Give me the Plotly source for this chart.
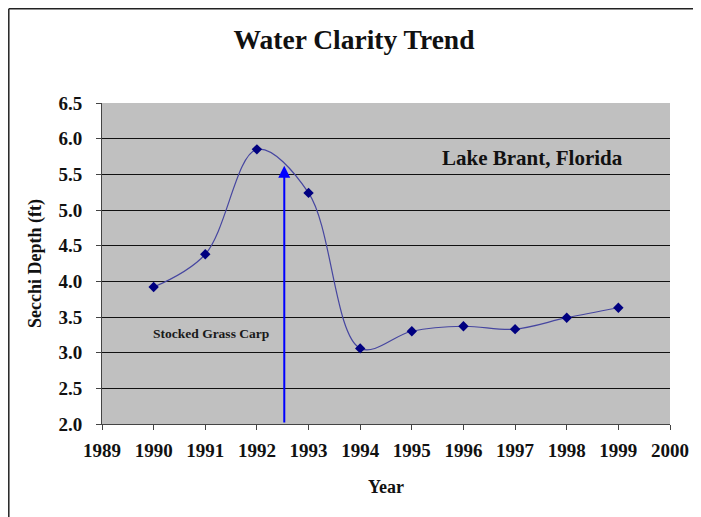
import plotly.graph_objects as go

years = [1990, 1991, 1992, 1993, 1994, 1995, 1996, 1997, 1998, 1999]
secchi_ft = [3.92, 4.38, 5.85, 5.24, 3.06, 3.30, 3.37, 3.33, 3.49, 3.63]
x_ticks = list(range(1989, 2001))
y_ticks = [2.0, 2.5, 3.0, 3.5, 4.0, 4.5, 5.0, 5.5, 6.0, 6.5]
stock_year = 1992.53
arrow_top = 5.62

SERIF = "Liberation Serif, Times New Roman, serif"

fig = go.Figure()
fig.add_trace(go.Scatter(
    x=years, y=secchi_ft, mode="lines+markers",
    line=dict(shape="spline", smoothing=1, color="#4646a0", width=1.2),
    marker=dict(symbol="diamond", size=8, color="#000080"),
    showlegend=False, hoverinfo="x+y",
))

fig.add_annotation(
    x=stock_year, y=arrow_top, ax=stock_year, ay=2.0,
    xref="x", yref="y", axref="x", ayref="y",
    showarrow=True, arrowhead=2, arrowsize=1.2, arrowwidth=2,
    arrowcolor="#0000ff", text="",
)
fig.add_annotation(
    x=1991.11, y=3.27, xref="x", yref="y", text="<b>Stocked Grass Carp</b>",
    showarrow=False, font=dict(family=SERIF, size=13.5, color="#1a1a1a"),
)
fig.add_annotation(
    x=1997.34, y=5.73, xref="x", yref="y", text="<b>Lake Brant, Florida</b>",
    showarrow=False, font=dict(family=SERIF, size=21, color="#111111"),
)

# page body has an 8px margin, so the figure is offset by 8px
OFF = 8
W, H = 701 - OFF, 517 - OFF
L, T = 102 - OFF, 103 - OFF
R = W - (670 - OFF)
B = H - (424 - OFF)
pw, ph = W - L - R, H - T - B
bx = (0.8 - L) / pw
by = 1 + (T - 0.8) / ph
fig.add_shape(type="line", xref="paper", yref="paper", x0=bx, x1=bx, y0=-1, y1=by,
              line=dict(color="#222222", width=1.5))
fig.add_shape(type="line", xref="paper", yref="paper", x0=bx, x1=2, y0=by, y1=by,
              line=dict(color="#222222", width=1.5))

fig.update_layout(
    width=W, height=H,
    margin=dict(l=L, r=R, t=T, b=B),
    paper_bgcolor="white", plot_bgcolor="#c0c0c0",
    title=dict(text="<b>Water Clarity Trend</b>", x=(354 - 102) / pw, xref="paper",
               xanchor="center", y=1 - (39 - OFF) / H, yref="container", yanchor="middle",
               font=dict(family=SERIF, size=27.5, color="#111111")),
    font=dict(family=SERIF, color="#111111"),
)
fig.update_xaxes(
    range=[1989, 2000], tickvals=x_ticks, ticktext=[str(v) for v in x_ticks],
    showgrid=False, zeroline=False, showline=True, linecolor="#444444", linewidth=1,
    ticks="outside", ticklen=5, tickcolor="#444444", ticklabelstandoff=4,
    tickfont=dict(family=SERIF, size=19, color="#111111", weight="bold"),
    title=dict(text="<b>Year</b>", font=dict(family=SERIF, size=18), standoff=20),
)
fig.update_yaxes(
    range=[2.0, 6.5], tickvals=y_ticks, ticktext=[f"{v:.1f}" for v in y_ticks],
    showgrid=True, gridcolor="#111111", gridwidth=1, zeroline=False,
    showline=True, linecolor="#444444", linewidth=1,
    ticks="outside", ticklen=5, tickcolor="#444444", ticklabelstandoff=10,
    tickfont=dict(family=SERIF, size=19, color="#111111", weight="bold"),
    title=dict(text="<b>Secchi Depth (ft)</b>", font=dict(family=SERIF, size=18), standoff=12),
)

fig.write_html("out.html")
